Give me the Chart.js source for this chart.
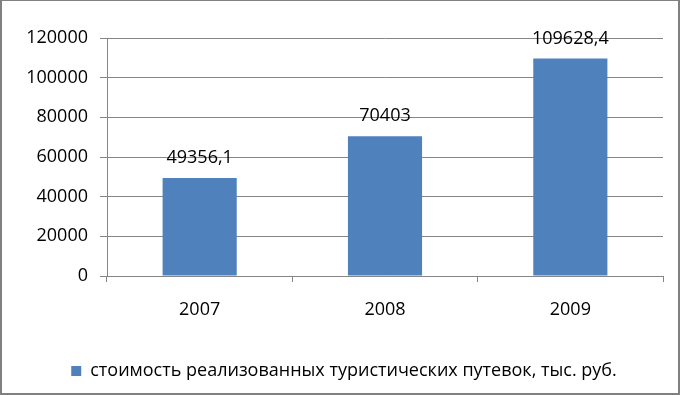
<!DOCTYPE html>
<html>
<head>
<meta charset="utf-8">
<script src="https://cdn.jsdelivr.net/npm/chart.js@4/dist/chart.umd.min.js"></script>
<style>
    html, body { margin: 0; padding: 0; background: #fff; }
    #wrap { position: relative; width: 680px; height: 395px; }
    #frame {
        position: absolute; left: 0; top: 0; width: 680px; height: 395px;
        box-sizing: border-box; pointer-events: none;
        border-left: 2px solid #808080; border-top: 1px solid #808080;
        border-right: 2px solid #808080; border-bottom: 2px solid #808080;
    }
</style>
</head>
<body>
<div id="wrap">
    <canvas id="chart" width="680" height="395"></canvas>
    <div id="frame"></div>
</div>
<script>
const years = ['2007', '2008', '2009'];
const values = [49356.1, 70403, 109628.4];
const seriesName = 'стоимость реализованных туристических путевок, тыс. руб.';
const yTicks = [0, 20000, 40000, 60000, 80000, 100000, 120000];

const FONT = '"Open Sans", sans-serif';
const gridColor = '#868686';

// подписи значений над столбцами
const valueLabels = {
    id: 'valueLabels',
    afterDatasetsDraw(chart) {
        const ctx = chart.ctx;
        const meta = chart.getDatasetMeta(0);
        ctx.save();
        ctx.font = '18px ' + FONT;
        ctx.fillStyle = '#000';
        ctx.textAlign = 'center';
        ctx.textBaseline = 'alphabetic';
        meta.data.forEach((bar, i) => {
            const text = String(values[i]).replace('.', ',');
            ctx.fillText(text, bar.x, bar.y - 15);
        });
        ctx.restore();
    }
};

document.addEventListener('DOMContentLoaded', function () {
    new Chart(document.getElementById('chart'), {
        type: 'bar',
        data: {
            labels: years,
            datasets: [{
                label: seriesName,
                data: values,
                backgroundColor: '#4F81BD',
                borderWidth: 0,
                barPercentage: 0.4,
                categoryPercentage: 1.0
            }]
        },
        options: {
            responsive: false,
            animation: false,
            layout: {
                padding: { left: 25, right: 17, top: 38, bottom: 5 }
            },
            plugins: {
                legend: {
                    position: 'bottom',
                    labels: {
                        font: { family: FONT, size: 18 },
                        color: '#000',
                        boxWidth: 10,
                        boxHeight: 10,
                        padding: 8
                    }
                },
                tooltip: { enabled: false }
            },
            scales: {
                x: {
                    grid: {
                        offset: true,
                        drawOnChartArea: false,
                        drawTicks: true,
                        tickLength: 6,
                        color: gridColor
                    },
                    border: { color: gridColor },
                    ticks: {
                        font: { family: FONT, size: 18 },
                        color: '#000',
                        padding: 17
                    },
                    afterFit(scale) { scale.height = 78; }
                },
                y: {
                    min: 0,
                    max: 120000,
                    clip: false,
                    afterBuildTicks(scale) {
                        scale.ticks = yTicks.map(v => ({ value: v }));
                    },
                    grid: {
                        color: gridColor,
                        tickLength: 7
                    },
                    border: { color: gridColor },
                    ticks: {
                        font: { family: FONT, size: 18 },
                        color: '#000',
                        padding: 12,
                        callback: v => String(v)
                    },
                    afterFit(scale) { scale.width = 82; }
                }
            }
        },
        plugins: [valueLabels]
    });
});
</script>
</body>
</html>
